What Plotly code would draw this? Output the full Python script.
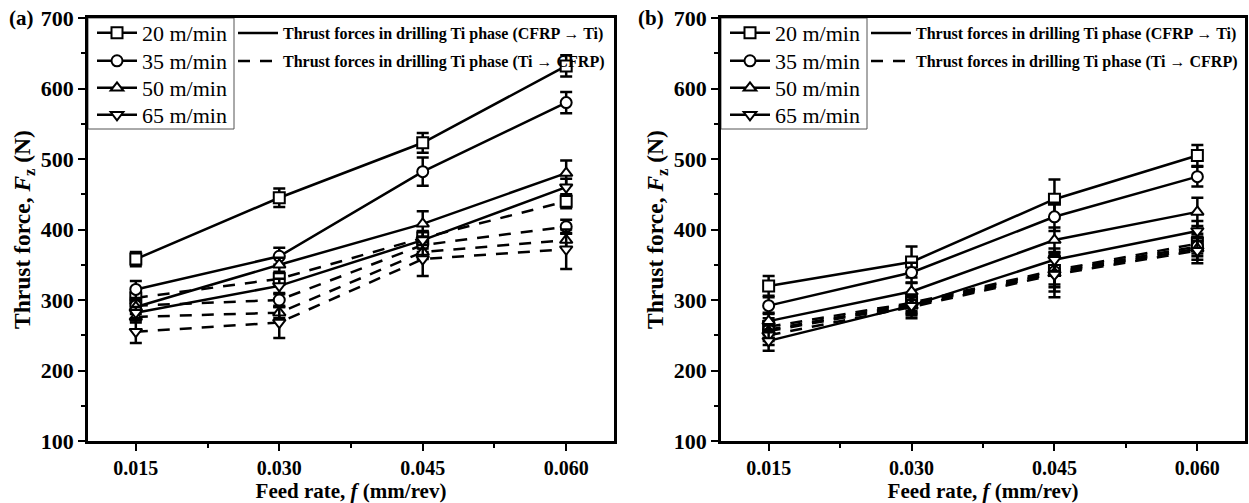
import plotly.graph_objects as go

# ---------------- data ----------------
feed = [0.015, 0.030, 0.045, 0.060]
speeds = ["20 m/min", "35 m/min", "50 m/min", "65 m/min"]
symbols = ["square", "circle", "triangle-up", "triangle-down"]

# panel (a)
a_cfrp_ti = {
    "20 m/min": [358, 445, 523, 632],
    "35 m/min": [315, 362, 482, 580],
    "50 m/min": [290, 350, 408, 480],
    "65 m/min": [282, 320, 385, 460],
}
a_cfrp_ti_err = {
    "20 m/min": [10, 13, 14, 15],
    "35 m/min": [12, 12, 20, 15],
    "50 m/min": [10, 10, 18, 18],
    "65 m/min": [8, 10, 12, 12],
}
a_ti_cfrp = {
    "20 m/min": [303, 330, 388, 440],
    "35 m/min": [292, 300, 378, 404],
    "50 m/min": [276, 282, 368, 385],
    "65 m/min": [255, 268, 358, 372],
}
a_ti_cfrp_err = {
    "20 m/min": [8, 8, 10, 10],
    "35 m/min": [8, 8, 10, 10],
    "50 m/min": [8, 8, 10, 10],
    "65 m/min": [16, 22, 24, 28],
}

# panel (b)
b_cfrp_ti = {
    "20 m/min": [320, 354, 443, 505],
    "35 m/min": [292, 339, 418, 475],
    "50 m/min": [270, 312, 385, 425],
    "65 m/min": [242, 292, 357, 398],
}
b_cfrp_ti_err = {
    "20 m/min": [14, 22, 28, 15],
    "35 m/min": [12, 14, 20, 14],
    "50 m/min": [12, 12, 18, 20],
    "65 m/min": [14, 12, 16, 14],
}
b_ti_cfrp = {
    "20 m/min": [262, 296, 342, 380],
    "35 m/min": [258, 294, 340, 376],
    "50 m/min": [256, 292, 338, 373],
    "65 m/min": [250, 290, 336, 370],
}
b_ti_cfrp_err = {
    "20 m/min": [12, 12, 20, 14],
    "35 m/min": [12, 12, 22, 14],
    "50 m/min": [14, 14, 26, 16],
    "65 m/min": [14, 16, 32, 18],
}

leg_solid = "Thrust forces in drilling Ti phase (CFRP → Ti)"
leg_dash = "Thrust forces in drilling Ti phase (Ti → CFRP)"

FONT = "Liberation Serif"
DASH = "12px,10px"
W, H = 1249, 503

fig = go.Figure()
layout_legends = {}
legend_counter = [0]


def new_legend(**kw):
    legend_counter[0] += 1
    n = legend_counter[0]
    key = "legend" if n == 1 else "legend%d" % n
    layout_legends[key] = kw
    return key


m_style = dict(xanchor="left", yanchor="middle", bgcolor="rgba(0,0,0,0)", borderwidth=0,
               font=dict(family=FONT, size=22, color="black"), itemwidth=40)
l_style = dict(xanchor="left", yanchor="middle", bgcolor="rgba(0,0,0,0)", borderwidth=0,
               font=dict(family=FONT, size=16, color="black", weight="bold"), itemwidth=40)

entry_y = [33, 61, 88, 115]


def add_panel(xa, ya, solid, solid_err, dashed, dashed_err, x_left, x_lines):
    for sp, sym in zip(speeds, symbols):
        fig.add_trace(go.Scatter(
            x=feed, y=dashed[sp], xaxis=xa, yaxis=ya, mode="lines+markers",
            line=dict(color="black", width=2.5, dash=DASH),
            marker=dict(symbol=sym, size=11, color="white", line=dict(color="black", width=2)),
            error_y=dict(type="data", array=dashed_err[sp], color="black", thickness=2.5, width=6),
            showlegend=False))
    for sp, sym, ey in zip(speeds, symbols, entry_y):
        lg = new_legend(x=x_left / W, y=1 - ey / H, **m_style)
        fig.add_trace(go.Scatter(
            x=feed, y=solid[sp], xaxis=xa, yaxis=ya, mode="lines+markers", name=sp,
            line=dict(color="black", width=2.5),
            marker=dict(symbol=sym, size=11, color="white", line=dict(color="black", width=2)),
            error_y=dict(type="data", array=solid_err[sp], color="black", thickness=2.5, width=6),
            legend=lg))
    lg = new_legend(x=x_lines / W, y=1 - 33 / H, **l_style)
    fig.add_trace(go.Scatter(x=[None], y=[None], xaxis=xa, yaxis=ya, mode="lines",
                             name=leg_solid, line=dict(color="black", width=2.5), legend=lg))
    lg = new_legend(x=x_lines / W, y=1 - 61 / H, **l_style)
    fig.add_trace(go.Scatter(x=[None], y=[None], xaxis=xa, yaxis=ya, mode="lines",
                             name=leg_dash, line=dict(color="black", width=2.5, dash=DASH), legend=lg))


add_panel("x", "y", a_cfrp_ti, a_cfrp_ti_err, a_ti_cfrp, a_ti_cfrp_err, 92, 233)
add_panel("x2", "y2", b_cfrp_ti, b_cfrp_ti_err, b_ti_cfrp, b_ti_cfrp_err, 725, 866)

ydom = [1 - 441 / H, 1 - 18 / H]
xdom1 = [88 / W, 614 / W]
xdom2 = [721 / W, 1245 / W]

xaxis_common = dict(
    range=[0.010, 0.065], tickvals=feed, ticktext=["%.3f" % v for v in feed],
    ticks="outside", ticklen=7, tickwidth=2, tickcolor="black", automargin=False,
    minor=dict(tickvals=[0.0225, 0.0375, 0.0525], ticks="outside", ticklen=4, tickwidth=2, tickcolor="black"),
    showline=True, linewidth=2.5, linecolor="black", mirror=True, showgrid=False, zeroline=False,
    tickfont=dict(family=FONT, size=20, color="black", weight="bold"),
    title=dict(text="Feed rate, <i>f</i> (mm/rev)", font=dict(family=FONT, size=21, color="black", weight="bold"), standoff=6),
)
yaxis_common = dict(
    range=[100, 700], tickvals=[100, 200, 300, 400, 500, 600, 700],
    ticktext=["%d" % v for v in [100, 200, 300, 400, 500, 600, 700]],
    ticks="outside", ticklen=7, tickwidth=2, tickcolor="black", automargin=False,
    minor=dict(tickvals=[150, 250, 350, 450, 550, 650], ticks="outside", ticklen=4, tickwidth=2, tickcolor="black"),
    showline=True, linewidth=2.5, linecolor="black", mirror=True, showgrid=False, zeroline=False,
    tickfont=dict(family=FONT, size=22, color="black", weight="bold"),
    title=dict(text="Thrust force, <i>F</i><sub>z</sub> (N)", font=dict(family=FONT, size=23.5, color="black", weight="bold"), standoff=4),
)

fig.update_layout(
    width=W, height=H, margin=dict(l=0, r=0, t=0, b=0, autoexpand=False),
    plot_bgcolor="white", paper_bgcolor="white",
    xaxis=dict(domain=xdom1, anchor="y", **xaxis_common),
    yaxis=dict(domain=ydom, anchor="x", **yaxis_common),
    xaxis2=dict(domain=xdom2, anchor="y2", **xaxis_common),
    yaxis2=dict(domain=ydom, anchor="x2", **yaxis_common),
    **layout_legends,
)

# legend frames for the speed legends
for x0, x1 in [(88, 234), (721, 867)]:
    fig.add_shape(type="rect", xref="paper", yref="paper", x0=x0 / W, x1=x1 / W,
                  y0=1 - 129 / H, y1=1 - 18 / H, line=dict(color="#555555", width=1),
                  fillcolor="rgba(0,0,0,0)", layer="below")

for txt, xp in [("(a)", 7), ("(b)", 636)]:
    fig.add_annotation(text=txt, xref="paper", yref="paper", x=xp / W, y=1 - 18 / H,
                       xanchor="left", yanchor="middle", showarrow=False,
                       font=dict(family=FONT, size=21, color="black", weight="bold"))

fig.write_html("out.html")
